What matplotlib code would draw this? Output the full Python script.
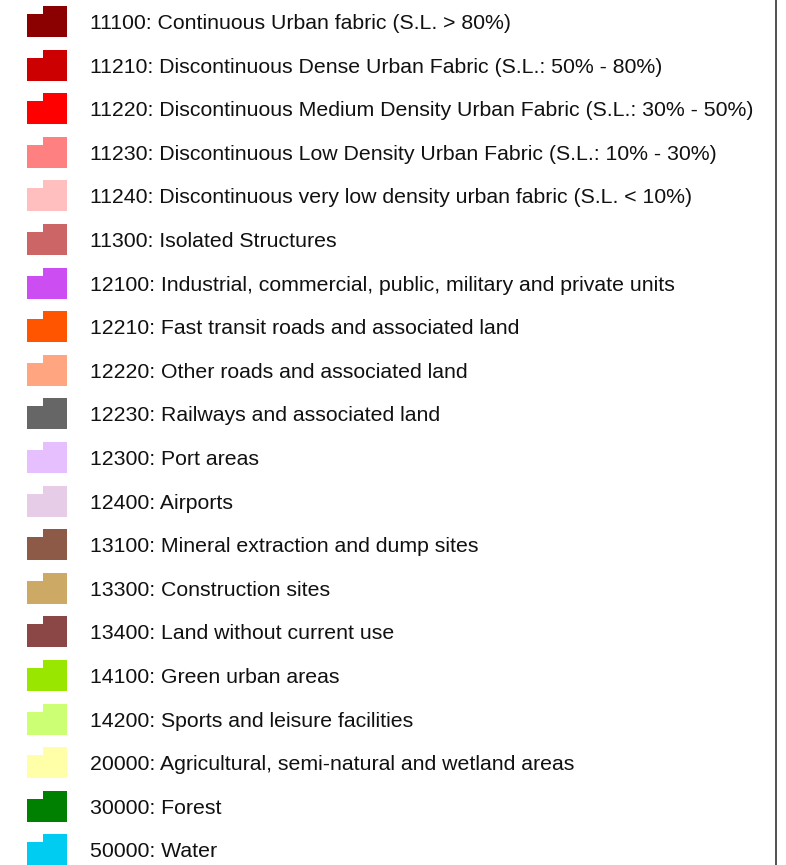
import matplotlib.pyplot as plt
from matplotlib.patches import Polygon

codes = ["11100", "11210", "11220", "11230", "11240", "11300", "12100",
         "12210", "12220", "12230", "12300", "12400", "13100", "13300",
         "13400", "14100", "14200", "20000", "30000", "50000"]
names = ["Continuous Urban fabric (S.L. > 80%)",
         "Discontinuous Dense Urban Fabric (S.L.: 50% - 80%)",
         "Discontinuous Medium Density Urban Fabric (S.L.: 30% - 50%)",
         "Discontinuous Low Density Urban Fabric (S.L.: 10% - 30%)",
         "Discontinuous very low density urban fabric (S.L. < 10%)",
         "Isolated Structures",
         "Industrial, commercial, public, military and private units",
         "Fast transit roads and associated land",
         "Other roads and associated land",
         "Railways and associated land",
         "Port areas",
         "Airports",
         "Mineral extraction and dump sites",
         "Construction sites",
         "Land without current use",
         "Green urban areas",
         "Sports and leisure facilities",
         "Agricultural, semi-natural and wetland areas",
         "Forest",
         "Water"]
colors = ["#8b0000", "#cc0000", "#ff0000", "#ff8080", "#ffbfbf", "#cc6666",
          "#cc4df2", "#ff5500", "#ffa680", "#666666", "#e6bfff", "#e6cce6",
          "#8c5a46", "#ccaa66", "#8b4646", "#99e600", "#ccff73", "#ffffa8",
          "#008000", "#00ccf2"]

plt.rcParams['font.family'] = ['Liberation Sans', 'DejaVu Sans']

fig = plt.figure(figsize=(7.86, 8.65), dpi=100)
ax = fig.add_axes([0, 0, 1, 1])
ax.set_xlim(0, 786)
ax.set_ylim(865, 0)
ax.axis("off")

step = 43.6
for i, (code, name, col) in enumerate(zip(codes, names, colors)):
    yc = 21.5 + i * step
    top, bot = yc - 15.5, yc + 15.5
    pts = [(27, bot), (27, top + 8), (43, top + 8), (43, top), (67, top), (67, bot)]
    ax.add_patch(Polygon(pts, closed=True, facecolor=col, edgecolor="none"))
    ax.text(90, yc, "{}: {}".format(code, name), fontsize=15.3,
            va="center_baseline", ha="left", color="#111111")

ax.plot([776, 776], [0, 865], color="#333333", lw=1.2)

plt.savefig("out.png", dpi=100)
